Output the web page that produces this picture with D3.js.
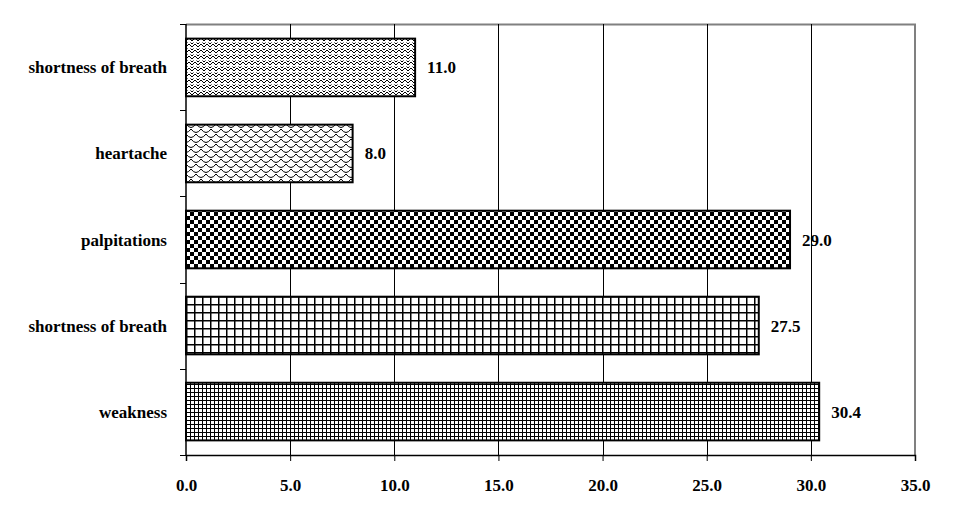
<!DOCTYPE html>
<html>
<head>
<meta charset="utf-8">
<script src="https://cdn.jsdelivr.net/npm/d3@7"></script>
<style>
  body { margin: 0; background: #fff; }
  text { font-family: "Liberation Serif", "Times New Roman", serif; font-weight: bold; font-size: 17px; fill: #000; }
</style>
</head>
<body>
<svg width="961" height="515"></svg>
<script>
// categories top to bottom, and their values
var symptoms = ["shortness of breath", "heartache", "palpitations", "shortness of breath", "weakness"];
var percents = [11.0, 8.0, 29.0, 27.5, 30.4];
var xTicks = [0, 5, 10, 15, 20, 25, 30, 35];
var patternIds = ["zigzag", "scales", "checker", "gridWide", "gridFine"];

var svg = d3.select("svg");
var margin = {top: 24, right: 46, bottom: 60, left: 186};
var plotWidth = 961 - margin.left - margin.right;
var plotHeight = 515 - margin.top - margin.bottom;

var defs = svg.append("defs");

// herringbone-like zigzag
var p = defs.append("pattern").attr("id", "zigzag").attr("patternUnits", "userSpaceOnUse")
  .attr("width", 6).attr("height", 6);
p.append("rect").attr("width", 6).attr("height", 6).attr("fill", "#fff");
p.append("path").attr("d", "M0,5 L3,2 L6,5 M0,2 L1.5,0.5 M4.5,0.5 L6,2")
  .attr("stroke", "#000").attr("stroke-width", 1).attr("fill", "none");

// scallops, staggered rows
p = defs.append("pattern").attr("id", "scales").attr("patternUnits", "userSpaceOnUse")
  .attr("width", 10).attr("height", 10);
p.append("rect").attr("width", 10).attr("height", 10).attr("fill", "#fff");
p.append("path").attr("d", "M0,0 Q5,7 10,0 M-5,5 Q0,12 5,5 M5,5 Q10,12 15,5 M0,10 Q5,17 10,10 M-5,-5 Q0,2 5,-5 M5,-5 Q10,2 15,-5")
  .attr("stroke", "#000").attr("stroke-width", 1).attr("fill", "none");

// checkerboard
p = defs.append("pattern").attr("id", "checker").attr("patternUnits", "userSpaceOnUse")
  .attr("width", 8).attr("height", 8);
p.append("rect").attr("width", 8).attr("height", 8).attr("fill", "#fff");
p.append("rect").attr("width", 4).attr("height", 4).attr("fill", "#000");
p.append("rect").attr("x", 4).attr("y", 4).attr("width", 4).attr("height", 4).attr("fill", "#000");

// wide grid
p = defs.append("pattern").attr("id", "gridWide").attr("patternUnits", "userSpaceOnUse")
  .attr("width", 8).attr("height", 8);
p.append("rect").attr("width", 8).attr("height", 8).attr("fill", "#fff");
p.append("rect").attr("width", 8).attr("height", 1.5).attr("fill", "#000");
p.append("rect").attr("width", 1.5).attr("height", 8).attr("fill", "#000");

// fine grid
p = defs.append("pattern").attr("id", "gridFine").attr("patternUnits", "userSpaceOnUse")
  .attr("width", 4).attr("height", 4);
p.append("rect").attr("width", 4).attr("height", 4).attr("fill", "#fff");
p.append("rect").attr("width", 4).attr("height", 1).attr("fill", "#000");
p.append("rect").attr("width", 1).attr("height", 4).attr("fill", "#000");

var xScale = d3.scaleLinear().domain([0, 35]).range([0, plotWidth]);
var yScale = d3.scaleBand()
  .domain(d3.range(symptoms.length))
  .range([0, plotHeight])
  .paddingInner(0.33)
  .paddingOuter(0.17);

var plot = svg.append("g").attr("transform", "translate(" + margin.left + "," + margin.top + ")");

// grey frame on top and right
plot.append("path")
  .attr("d", "M0,0.5 H" + plotWidth + " V" + plotHeight)
  .attr("stroke", "#808080").attr("stroke-width", 2).attr("fill", "none");

// vertical gridlines
plot.selectAll("line.grid").data(xTicks.slice(1, -1)).enter().append("line")
  .attr("class", "grid")
  .attr("x1", function(d) { return Math.round(xScale(d)) + 0.5; })
  .attr("x2", function(d) { return Math.round(xScale(d)) + 0.5; })
  .attr("y1", 0).attr("y2", plotHeight)
  .attr("stroke", "#000").attr("stroke-width", 1);

// bars
plot.selectAll("rect.bar").data(percents).enter().append("rect")
  .attr("class", "bar")
  .attr("x", xScale(0))
  .attr("y", function(d, i) { return yScale(i); })
  .attr("width", function(d) { return xScale(d) - xScale(0); })
  .attr("height", yScale.bandwidth())
  .attr("fill", function(d, i) { return "url(#" + patternIds[i] + ")"; })
  .attr("stroke", "#000").attr("stroke-width", 2);

// value labels
plot.selectAll("text.val").data(percents).enter().append("text")
  .attr("class", "val")
  .attr("x", function(d) { return xScale(d) + 12; })
  .attr("y", function(d, i) { return yScale(i) + yScale.bandwidth() / 2 + 6; })
  .text(function(d) { return d.toFixed(1); });

// x axis
var xAxis = d3.axisBottom(xScale).tickValues(xTicks).tickSize(6).tickFormat(d3.format(".1f"));
var xGroup = plot.append("g").attr("transform", "translate(0," + plotHeight + ")").call(xAxis);
xGroup.select(".domain").attr("stroke", "#000").attr("stroke-width", 1.5);
xGroup.selectAll(".tick line").attr("stroke", "#000");
xGroup.selectAll(".tick text").attr("dy", 0).attr("y", 36).style("font-size", "17px").attr("font-family", null);

// y axis: ticks at band boundaries
var bounds = d3.range(symptoms.length + 1).map(function(i) { return i * plotHeight / symptoms.length; });
plot.append("line").attr("x1", 0).attr("x2", 0).attr("y1", 0).attr("y2", plotHeight)
  .attr("stroke", "#000").attr("stroke-width", 1.5);
plot.selectAll("line.ytick").data(bounds).enter().append("line")
  .attr("class", "ytick")
  .attr("x1", -6).attr("x2", 0)
  .attr("y1", function(d) { return Math.round(d) + 0.5; })
  .attr("y2", function(d) { return Math.round(d) + 0.5; })
  .attr("stroke", "#000");

plot.selectAll("text.cat").data(symptoms).enter().append("text")
  .attr("class", "cat")
  .attr("x", -19)
  .attr("y", function(d, i) { return yScale(i) + yScale.bandwidth() / 2 + 6; })
  .attr("text-anchor", "end")
  .text(function(d) { return d; });
</script>
</body>
</html>
